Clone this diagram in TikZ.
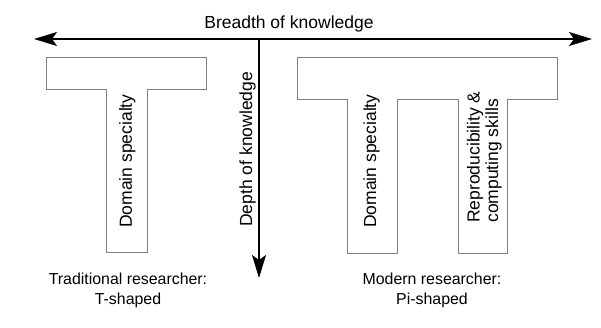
\documentclass[tikz,border=0pt]{standalone}
\usepackage{fontspec}
\setmainfont{Liberation Sans}
\usepackage{xcolor}
\usepackage{tikz}
\usetikzlibrary{arrows.meta, positioning}

\begin{document}
\begin{tikzpicture}[x=0.025cm, y=-0.025cm]
\tikzstyle{outline} = [draw=black!50, line width=0.7pt]
\tikzstyle{axis} = [line width=0.9pt, >={Stealth[length=0.575cm, width=0.35cm, inset=0.125cm]}]
\tikzstyle{stemtext} = [rotate=90, inner sep=0pt, font=\fontsize{12.45}{13.2}\selectfont]
\tikzstyle{caption} = [align=center, inner sep=0pt, anchor=north, font=\fontsize{11.3}{14.2}\selectfont]

\useasboundingbox (0,0) rectangle (601,328);

% T-shaped profile
\draw [outline] (46,57) -- (206,57) -- (206,89) -- (147,89) -- (147,252)
  -- (106,252) -- (106,89) -- (46,89) -- cycle;

% Pi-shaped profile
\draw [outline] (297,57) -- (557,57) -- (557,99) -- (507,99) -- (507,253)
  -- (458,253) -- (458,99) -- (397,99) -- (397,253) -- (347,253)
  -- (347,99) -- (297,99) -- cycle;

% knowledge axes
\coordinate (origin) at (259,39);
\coordinate (broadleft) at (34,39);
\coordinate (broadright) at (592,39);
\coordinate (deep) at (259,278);
\draw [axis, <->] (broadleft) -- (broadright);
\draw [axis, ->] (origin) -- (deep);

\node (breadth) [anchor=base, inner sep=0pt, font=\fontsize{12.45}{14}\selectfont] at (289,29) {Breadth of knowledge};
\node (depth) [stemtext, anchor=base west] at (252,227) {Depth of knowledge};

% stem labels
\node (tdomain) [stemtext, anchor=base west] at (132,228) {Domain specialty};
\node (pidomain) [stemtext, anchor=base west] at (376,228) {Domain specialty};
\node (repro) [stemtext, anchor=south west, align=left] at (502,223) {Reproducibility \&\\computing skills};

% captions
\node (tcap) [caption] at (128,272.5) {Traditional researcher:\\T-shaped};
\node (picap) [caption] at (432,272.5) {Modern researcher:\\Pi-shaped};

\end{tikzpicture}
\end{document}
